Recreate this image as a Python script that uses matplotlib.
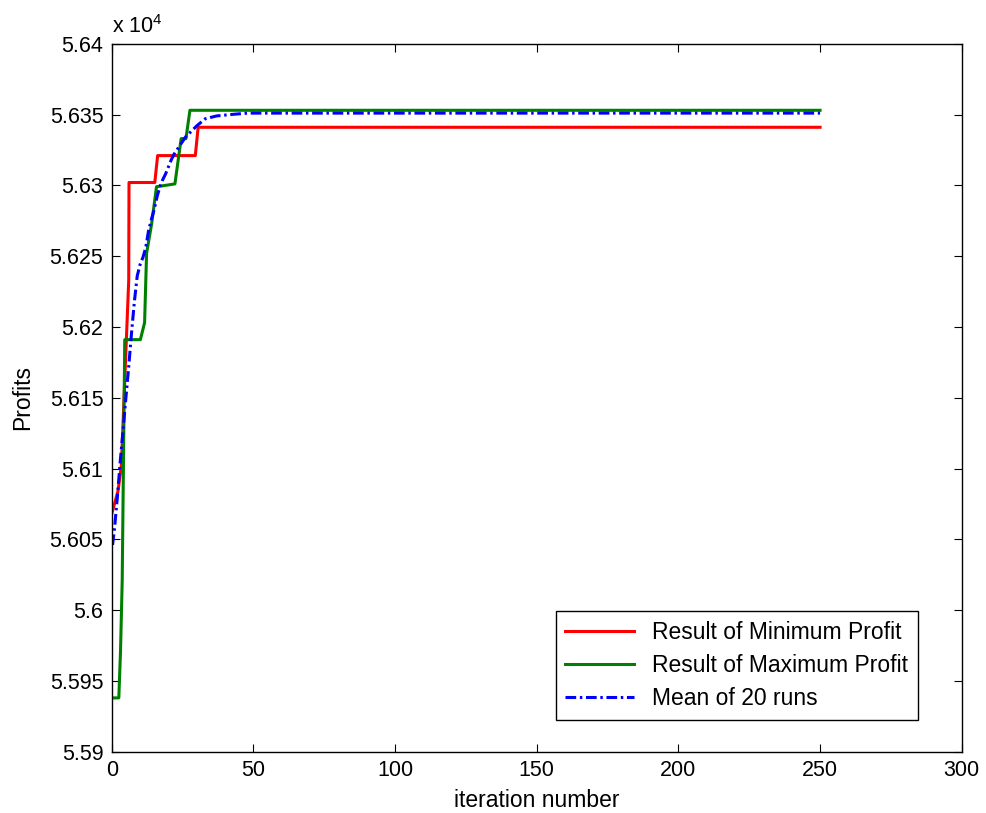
# Profits vs iteration number (convergence curves)
import matplotlib
matplotlib.use("Agg")
import matplotlib.pyplot as plt
from matplotlib.ticker import FuncFormatter

plt.rcParams['font.family'] = ['Liberation Sans', 'DejaVu Sans']
plt.rcParams['mathtext.fontset'] = 'custom'
plt.rcParams['mathtext.rm'] = 'Liberation Sans'
plt.rcParams['font.size'] = 15.5

# values in units of 10^4 (as on the axis)
min_iter = [0, 2.2, 3.4, 6.0, 6.1, 15.2, 16.2, 29.5, 30.5, 250]
min_profit = [5.6068, 5.6084, 5.6102, 5.6233, 5.6302, 5.6302, 5.6321, 5.6321, 5.6341, 5.6341]

max_iter = [0.8, 2.5, 3.1, 3.7, 4.6, 10.1, 11.6, 12.3, 14.1, 15.8, 22.3, 24.5, 26.2, 27.6, 250]
max_profit = [5.5938, 5.5938, 5.5971, 5.6021, 5.6191, 5.6191, 5.6203, 5.6252, 5.6273, 5.6299,
              5.6301, 5.6333, 5.6333, 5.6353, 5.6353]

mean_iter = [0.3, 1, 2, 3, 4, 5, 6, 7, 8, 9, 10, 11, 12, 13, 14, 15, 16, 17, 18, 19, 20,
             21, 22, 23, 24, 25, 26, 28, 30, 33, 37, 42, 48, 250]
mean_profit = [5.6046, 5.6058, 5.6080, 5.6105, 5.6127, 5.6150, 5.6172, 5.6196, 5.6218, 5.6236,
               5.6244, 5.6249, 5.6256, 5.6268, 5.6276, 5.6283, 5.6292, 5.6299, 5.6304, 5.6308,
               5.6313, 5.6318, 5.6322, 5.6325, 5.6328, 5.6331, 5.6334, 5.6338, 5.6342, 5.6347,
               5.6349, 5.6350, 5.6351, 5.6351]

fig = plt.figure(figsize=(9.87, 8.13), dpi=100)
ax = fig.add_axes([0.1132, 0.0754, 0.8612, 0.8708])

ax.plot(min_iter, min_profit, color=(1, 0, 0), lw=2.2, label='Result of Minimum Profit')
ax.plot(max_iter, max_profit, color=(0, 0.5, 0), lw=2.2, label='Result of Maximum Profit')
ax.plot(mean_iter, mean_profit, color=(0, 0, 1), lw=2.2, ls=(0, (3.5, 1.2, 0.8, 1.2)),
        label='Mean of 20 runs')

ax.set_xlim(0, 300)
ax.set_ylim(5.59, 5.64)
ax.set_xticks(range(0, 301, 50))
ax.set_yticks([5.59 + 0.005 * i for i in range(11)])
ax.yaxis.set_major_formatter(FuncFormatter(lambda v, p: '%g' % round(v, 4)))
ax.tick_params(direction='in', length=6, top=True, right=True, width=0.8, pad=6)
for s in ax.spines.values():
    s.set_linewidth(1.0)

ax.set_xlabel('iteration number', fontsize=16.5, labelpad=6)
ax.set_ylabel('Profits', fontsize=16.5, labelpad=11)
ax.text(0, 1.008, r'x 10$^{4}$', transform=ax.transAxes, ha='left', va='bottom')

leg = ax.legend(loc='lower right', bbox_to_anchor=(0.9486, 0.0448), fancybox=False,
                edgecolor='black', framealpha=1, borderaxespad=0, handlelength=3.0,
                labelspacing=0.45, borderpad=0.42, fontsize=16.5)
leg.get_frame().set_linewidth(1.0)

fig.savefig('out.png', dpi=100)
